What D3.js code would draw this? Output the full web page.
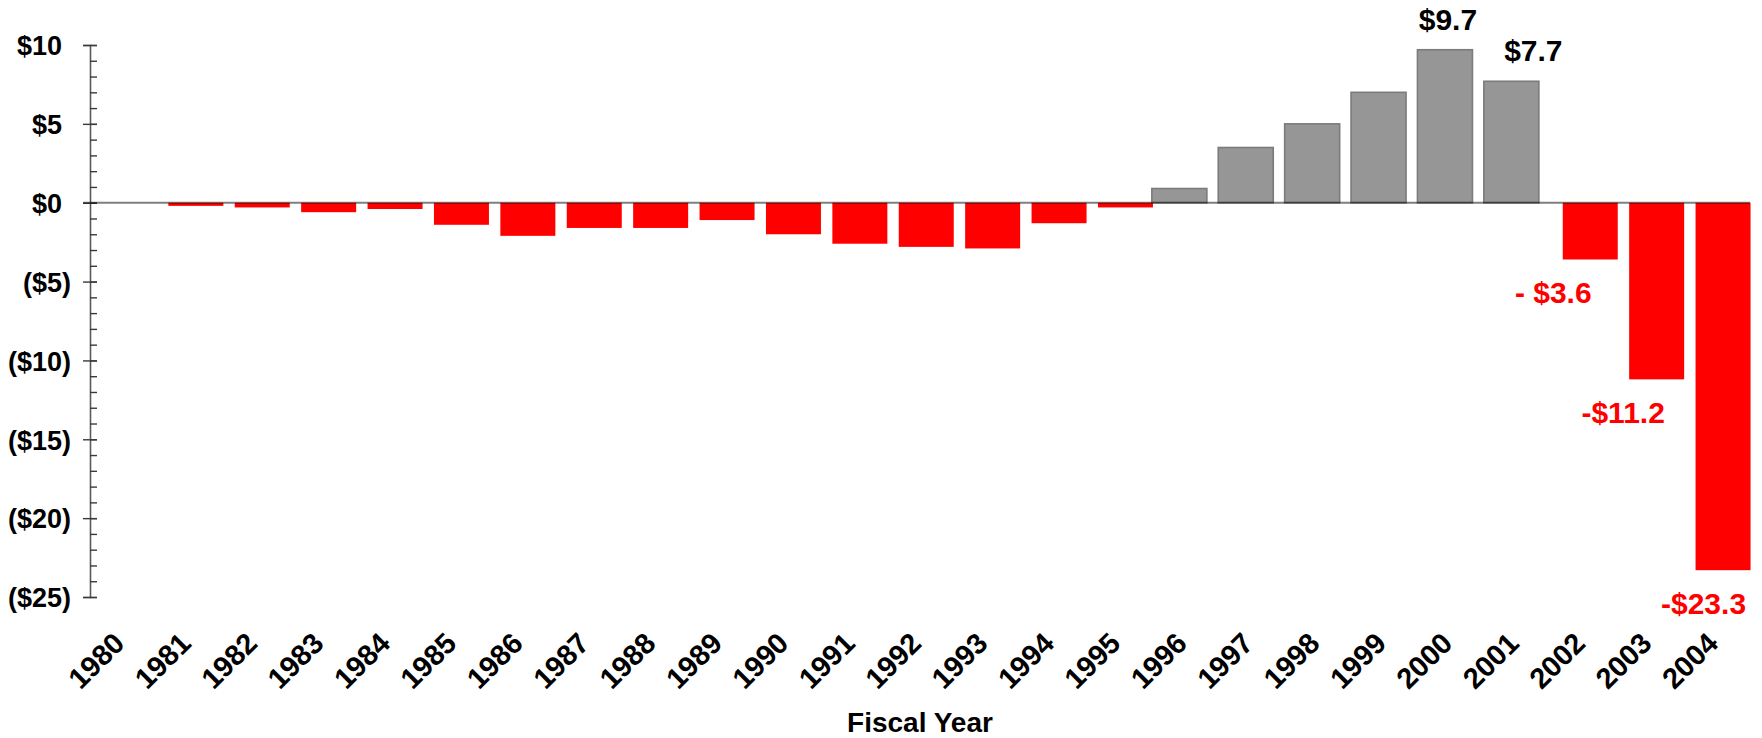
<!DOCTYPE html>
<html>
<head>
<meta charset="utf-8">
<script src="https://cdn.jsdelivr.net/npm/d3@7"></script>
<style>
  html, body { margin: 0; padding: 0; background: #ffffff; }
  svg { display: block; font-family: "Liberation Sans", Arial, Helvetica, sans-serif; }
</style>
</head>
<body>
<svg id="chart" width="1762" height="738"></svg>
<script>
// Fiscal years on the category axis
const years = d3.range(1980, 2005).map(String);

// Deficit series (billions), one value per year; 0 where the year ran a surplus
const deficits = [0, -0.2, -0.3, -0.6, -0.4, -1.4, -2.1, -1.6, -1.6, -1.1,
                  -2.0, -2.6, -2.8, -2.9, -1.3, -0.3, 0, 0, 0, 0,
                  0, 0, -3.6, -11.2, -23.3];

// Surplus series (billions), one value per year; 0 where the year ran a deficit
const surpluses = [0, 0, 0, 0, 0, 0, 0, 0, 0, 0,
                   0, 0, 0, 0, 0, 0, 0.9, 3.5, 5.0, 7.0,
                   9.7, 7.7, 0, 0, 0];

// Value axis ticks
const majorTicks = [10, 5, 0, -5, -10, -15, -20, -25];
const minorTicks = d3.range(-25, 11, 1);

// Years whose bars carry a value callout
const calloutYears = ["2000", "2001", "2002", "2003", "2004"];

const svg = d3.select("#chart");
const plot = { left: 90, right: 1750, top: 45, bottom: 597 };

const x = d3.scaleBand()
  .domain(years)
  .range([plot.left, plot.right])
  .paddingInner(0)
  .paddingOuter(0);

const y = d3.scaleLinear()
  .domain([-25, 10])
  .range([plot.bottom, plot.top]);

// The two series overlap inside each year, surplus slightly left of deficit
const seriesShift = d3.scalePoint()
  .domain(["surplus", "deficit"])
  .range([-6.25, 6.25]);
const barW = 55;

const RED = "#ff0000";
const GREY = "#969696";

const series = [
  { key: "surplus", values: surpluses, fill: GREY, stroke: "#7b7b7b" },
  { key: "deficit", values: deficits, fill: RED, stroke: "none" }
];

// Bars
series.forEach(s => {
  const rows = years.map((yr, i) => ({ year: yr, v: s.values[i] })).filter(d => d.v !== 0);
  svg.append("g").selectAll("rect")
    .data(rows)
    .join("rect")
    .attr("x", d => x(d.year) + x.bandwidth() / 2 + seriesShift(s.key) - barW / 2)
    .attr("y", d => y(Math.max(0, d.v)))
    .attr("width", barW)
    .attr("height", d => Math.abs(y(d.v) - y(0)))
    .attr("fill", s.fill)
    .attr("stroke", s.stroke)
    .attr("stroke-width", s.stroke === "none" ? 0 : 1.6);
});

// Value axis: major ticks crossing the line, labels in accounting style
const yAxis = svg.append("g")
  .attr("transform", `translate(${plot.left},0)`)
  .call(d3.axisLeft(y)
    .tickValues(majorTicks)
    .tickSize(7)
    .tickFormat(v => v < 0 ? `($${Math.abs(v)})` : `$${v}`));

yAxis.select(".domain")
  .attr("stroke", "#5a5a5a")
  .attr("stroke-width", 1.6);

yAxis.selectAll(".tick line")
  .attr("x1", -7)
  .attr("x2", 7)
  .attr("stroke", "#3a3a3a")
  .attr("stroke-width", 1.4);

const yFont = 27;
yAxis.selectAll(".tick text")
  .attr("x", d => d < 0 ? -19 : -19 - 0.333 * yFont)
  .attr("dy", "0.36em")
  .attr("fill", "#000")
  .style("font-size", yFont + "px")
  .style("font-weight", "bold");

// Minor ticks every unit, on the inside of the axis
const yMinor = svg.append("g")
  .attr("transform", `translate(${plot.left},0)`)
  .call(d3.axisLeft(y)
    .tickValues(minorTicks)
    .tickSize(-7)
    .tickFormat(""));
yMinor.select(".domain").remove();
yMinor.selectAll(".tick line")
  .attr("stroke", "#3a3a3a")
  .attr("stroke-width", 1.4);

// Zero line drawn over the bars
svg.append("line")
  .attr("x1", plot.left - 7)
  .attr("x2", plot.right)
  .attr("y1", y(0))
  .attr("y2", y(0))
  .attr("stroke", "#000")
  .attr("stroke-opacity", 0.5)
  .attr("stroke-width", 2);

// Category axis: rotated year labels, no line
const xAxis = svg.append("g")
  .attr("transform", "translate(0,645)")
  .call(d3.axisBottom(x).tickSize(0));
xAxis.select(".domain").remove();
xAxis.selectAll(".tick text")
  .attr("x", 0)
  .attr("y", 0)
  .attr("dy", 0)
  .attr("transform", "translate(3,0) rotate(-45)")
  .attr("text-anchor", "end")
  .attr("fill", "#000")
  .style("font-size", "29px")
  .style("font-weight", "bold");

// Axis title
svg.append("text")
  .attr("x", (plot.left + plot.right) / 2)
  .attr("y", 732)
  .attr("text-anchor", "middle")
  .style("font-size", "28px")
  .style("font-weight", "bold")
  .text("Fiscal Year");

// Value callouts, nudged off the bar ends
const calloutNudge = { "2000": 3, "2001": 22, "2002": -37, "2003": -33.5, "2004": -19.5 };
const fmtCallout = (yr, v) => v > 0 ? `$${v.toFixed(1)}`
  : (yr === "2002" ? `- $${Math.abs(v).toFixed(1)}` : `-$${Math.abs(v).toFixed(1)}`);

svg.append("g").selectAll("text")
  .data(calloutYears.map(yr => {
    const i = years.indexOf(yr);
    const v = surpluses[i] !== 0 ? surpluses[i] : deficits[i];
    return { year: yr, v, key: surpluses[i] !== 0 ? "surplus" : "deficit" };
  }))
  .join("text")
  .attr("x", d => x(d.year) + x.bandwidth() / 2 + seriesShift(d.key) + calloutNudge[d.year])
  .attr("y", d => d.v > 0 ? y(d.v) - 20 : y(d.v) + 44)
  .attr("text-anchor", "middle")
  .attr("fill", d => d.v > 0 ? "#000" : RED)
  .style("font-size", "30px")
  .style("font-weight", "bold")
  .text(d => fmtCallout(d.year, d.v));
</script>
</body>
</html>
